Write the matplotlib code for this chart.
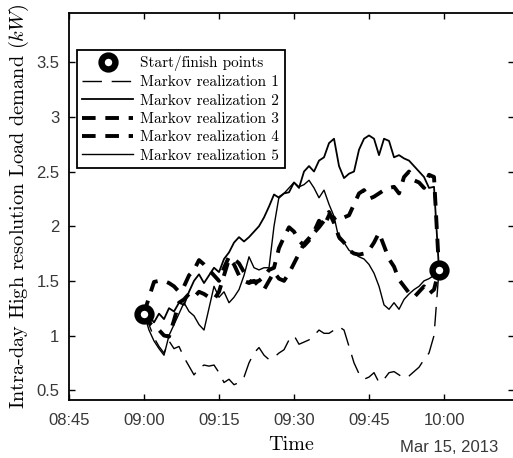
import numpy as np
import pandas as pd
import matplotlib
matplotlib.use("Agg")
import matplotlib.pyplot as plt
import matplotlib.dates as mdates

plt.rcParams['mathtext.fontset'] = 'cm'

# Markov realizations, one value per minute from 09:00
real1 = [1.2, 1.1, 0.98, 0.9, 0.84, 0.95, 0.88, 0.9, 0.8, 0.72, 0.64, 0.7, 0.73, 0.72, 0.73,
         0.66, 0.57, 0.6, 0.55, 0.57, 0.62, 0.75, 0.84, 0.89, 0.82, 0.78, 0.8, 0.84, 0.87, 0.96,
         1.0, 0.92, 0.94, 0.96, 1.0, 1.05, 1.02, 1.02, 1.05, 1.08, 1.05, 0.9, 0.75, 0.65, 0.6,
         0.62, 0.66, 0.57, 0.6, 0.66, 0.67, 0.64, 0.61, 0.63, 0.67, 0.71, 0.78, 0.84, 1.0, 1.6]
real2 = [1.2, 1.18, 1.12, 1.2, 1.15, 1.25, 1.22, 1.3, 1.28, 1.4, 1.5, 1.56, 1.48, 1.55, 1.62,
         1.58, 1.7, 1.76, 1.85, 1.9, 1.86, 1.9, 1.95, 2.0, 2.08, 2.18, 2.29, 2.26, 2.3, 2.31,
         2.4, 2.35, 2.5, 2.55, 2.5, 2.6, 2.63, 2.76, 2.8, 2.55, 2.44, 2.48, 2.5, 2.7, 2.8,
         2.83, 2.8, 2.65, 2.8, 2.78, 2.63, 2.65, 2.62, 2.6, 2.55, 2.5, 2.45, 2.35, 2.36, 1.6]
real3 = [1.2, 1.35, 1.49, 1.5, 1.5, 1.48, 1.45, 1.4, 1.45, 1.55, 1.6, 1.69, 1.65, 1.6, 1.55,
         1.5, 1.62, 1.72, 1.7, 1.66, 1.58, 1.5, 1.49, 1.5, 1.54, 1.6, 1.62, 1.8, 1.9, 1.99,
         1.95, 1.87, 1.82, 1.87, 1.94, 1.99, 2.05, 2.13, 2.03, 1.9, 1.85, 1.78, 1.75, 1.74, 1.75,
         1.78, 1.85, 1.94, 1.82, 1.7, 1.63, 1.51, 1.45, 1.39, 1.35, 1.4, 1.45, 1.38, 1.42, 1.6]
real4 = [1.2, 1.12, 1.08, 1.05, 1.0, 0.99, 1.14, 1.3, 1.33, 1.38, 1.35, 1.4, 1.38, 1.35, 1.33,
         1.4, 1.55, 1.7, 1.65, 1.55, 1.5, 1.48, 1.5, 1.45, 1.42, 1.5, 1.58, 1.52, 1.5, 1.57,
         1.66, 1.75, 1.84, 1.89, 1.95, 2.05, 2.0, 2.1, 2.07, 2.1, 2.08, 2.1, 2.2, 2.3, 2.33,
         2.25, 2.27, 2.3, 2.33, 2.35, 2.36, 2.3, 2.45, 2.5, 2.42, 2.4, 2.35, 2.47, 2.45, 1.6]
real5 = [1.2, 1.05, 0.95, 0.88, 0.82, 1.0, 1.1, 1.2, 1.3, 1.22, 1.18, 1.1, 1.05, 1.25, 1.45,
         1.35, 1.4, 1.3, 1.35, 1.42, 1.55, 1.72, 1.62, 1.6, 1.62, 1.62, 2.0, 2.27, 2.3, 2.35,
         2.4, 2.36, 2.38, 2.42, 2.35, 2.26, 2.33, 2.2, 2.09, 1.88, 1.85, 1.78, 1.75, 1.72, 1.7,
         1.65, 1.57, 1.45, 1.28, 1.24, 1.3, 1.24, 1.33, 1.38, 1.42, 1.45, 1.5, 1.52, 1.55, 1.6]

times = pd.date_range("2013-03-15 09:00", periods=len(real1), freq="1min")
ends_t = [times[0], times[-1]]
ends_v = [real1[0], real1[-1]]

fig = plt.figure(figsize=(5.13, 4.58), dpi=100)
ax = fig.add_axes([0.1345, 0.1266, 0.8675, 0.845])

ax.plot(times, real1, color='k', lw=1.0, dashes=(14, 7), label='Markov realization 1')
ax.plot(times, real2, color='k', lw=1.3, label='Markov realization 2')
ax.plot(times, real3, color='k', lw=2.8, dashes=(3.5, 2.5), label='Markov realization 3')
ax.plot(times, real4, color='k', lw=2.8, dashes=(3.5, 2.5), label='Markov realization 4')
ax.plot(times, real5, color='k', lw=1.0, label='Markov realization 5')
ax.plot(ends_t, ends_v, 'o', ms=10, mfc='white', mec='black', mew=4.6,
        ls='none', label='Start/finish points', zorder=5)

ax.set_xlim(pd.Timestamp("2013-03-15 08:45"), pd.Timestamp("2013-03-15 10:14"))
ax.set_ylim(0.41, 3.95)
ax.xaxis.set_major_locator(mdates.MinuteLocator(byminute=[0, 15, 30, 45]))
ax.xaxis.set_major_formatter(mdates.DateFormatter('%H:%M'))
ax.set_yticks([0.5, 1, 1.5, 2, 2.5, 3, 3.5])
ax.set_yticklabels(['0.5', '1', '1.5', '2', '2.5', '3', '3.5'])
ax.tick_params(direction='in', length=4, width=1, top=True, right=True,
               labelsize=12, labelcolor='#383838')
ax.tick_params(axis='x', pad=9)
ax.tick_params(axis='y', pad=7)
for lab in ax.get_xticklabels() + ax.get_yticklabels():
    lab.set_family('Liberation Sans')
for sp in ax.spines.values():
    sp.set_linewidth(1.3)

ax.set_xlabel('Time', family='cmr10', fontsize=14.5, labelpad=6)
ax.set_ylabel('Intra-day High resolution Load demand $(kW)$', family='cmr10',
              fontsize=14.6, labelpad=4)
fig.text(449 / 513, 1 - 448 / 458, 'Mar 15, 2013', family='Liberation Sans',
         fontsize=12, color='#383838', ha='center', va='center')

h, l = ax.get_legend_handles_labels()
order = [5, 0, 1, 2, 3, 4]
leg = ax.legend([h[i] for i in order], [l[i] for i in order], loc='upper left',
                bbox_to_anchor=(0.018, 0.904), borderaxespad=0, fancybox=False,
                edgecolor='black', framealpha=1, prop={'family': 'cmr10', 'size': 11},
                handlelength=3.3, labelspacing=0.3, borderpad=0.35, handletextpad=0.5)
leg.get_frame().set_linewidth(1.3)

plt.savefig("out.png", dpi=100)
